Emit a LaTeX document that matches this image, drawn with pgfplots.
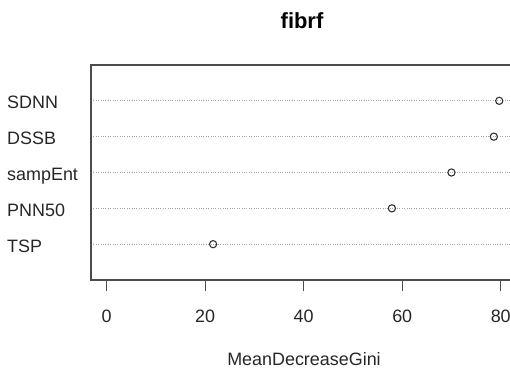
\documentclass[border=0pt]{standalone}
\usepackage{pgfplots}
\pgfplotsset{compat=1.18}
\usepackage{fontspec}
\setmainfont{Liberation Sans}
\begin{document}
\begin{tikzpicture}[x=1bp,y=1bp]
\useasboundingbox (0,0) rectangle (510,369);
\begin{axis}[
  at={(91bp,89bp)}, anchor=south west,
  scale only axis,
  width=421bp, height=215bp,
  xmin=-3.19, xmax=82.29,
  ymin=0, ymax=6,
  xtick={0,20,40,60,80},
  ytick={1,2,3,4,5},
  yticklabels={TSP,PNN50,sampEnt,DSSB,SDNN},
  /pgf/number format/assume math mode=true,
  tick label style={font=\fontsize{18}{20}\selectfont, text=black!85},
  xticklabel style={anchor=base, inner sep=0pt, yshift=-31bp},
  yticklabel style={anchor=base west, inner sep=0pt, xshift=-84bp, yshift=-8bp},
  xtick style={black!70, line width=1bp},
  major tick length=11bp,
  xtick pos=bottom, xtick align=outside,
  ytick style={draw=none},
  ymajorgrids,
  grid style={black!35, dotted, line width=0.8bp},
  axis line style={black!70, line width=1.2bp},
  clip=false,
]
\addplot[only marks, mark=o, mark size=3.6bp, mark options={black!80, line width=1.1bp}]
  coordinates {(79.7,5) (78.6,4) (70.0,3) (57.9,2) (21.6,1)};
\end{axis}
\node[anchor=base, font=\fontsize{22}{24}\selectfont\bfseries, inner sep=0pt] at (302,341) {fibrf};
\node[anchor=base, font=\fontsize{18}{20}\selectfont, text=black!85, inner sep=0pt] at (304,3.5) {MeanDecreaseGini};
\end{tikzpicture}
\end{document}
